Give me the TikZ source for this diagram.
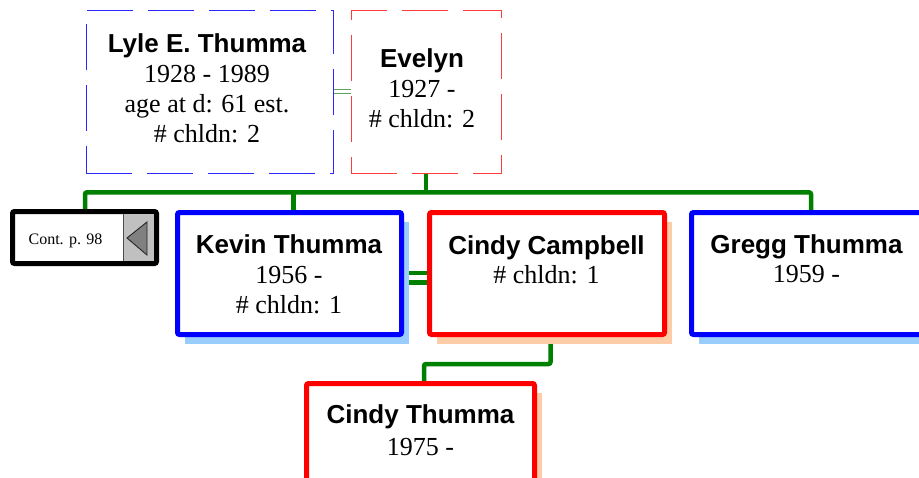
\documentclass[tikz,border=0pt]{standalone}
\usepackage{fontspec}
\setmainfont{Liberation Serif}
\newfontfamily\namefont{Liberation Sans}
\usetikzlibrary{calc}
\definecolor{famgreen}{RGB}{0,128,0}
\definecolor{mgreen}{RGB}{90,165,90}
\definecolor{pblue}{RGB}{0,0,255}
\definecolor{pred}{RGB}{255,0,0}
\definecolor{dblue}{RGB}{40,40,255}
\definecolor{dred}{RGB}{255,60,60}
\definecolor{shblue}{RGB}{153,204,255}
\definecolor{shpeach}{RGB}{255,204,168}
\definecolor{contgrey}{RGB}{192,192,192}
\definecolor{trigrey}{RGB}{128,128,128}
\pgfdeclarelayer{bg}
\pgfsetlayers{bg,main}
\tikzset{
  x=1pt, y=-1pt,
  dbox/.style={draw, fill=white, line width=1pt, dash pattern=on 46pt off 15pt, inner sep=0pt, outer sep=0pt},
  pbox/.style={draw, fill=white, line width=5pt, rounded corners=2pt, inner sep=0pt, outer sep=0pt, minimum height=122pt},
  nametxt/.style={anchor=base, inner sep=0pt, font=\namefont\bfseries\fontsize{26}{30}\selectfont},
  infotxt/.style={anchor=base, inner sep=0pt, font=\fontsize{26}{30}\selectfont},
  fam/.style={draw=famgreen, line width=4.5pt, rounded corners=2pt},
  mthin/.style={draw=mgreen, line width=1.2pt},
}
\begin{document}
\begin{tikzpicture}
\useasboundingbox (0,0) rectangle (919,477);
\clip (0,0) rectangle (919,477);

% parents (dashed)
\node[dbox, draw=dblue, minimum width=247pt, minimum height=163pt] (lyle) at (209.5,91.5) {};
\node[dbox, draw=dred, minimum width=150pt, minimum height=163pt] (ev) at (426,91.5) {};

% continuation box
\node[draw=black, fill=white, line width=5pt, rounded corners=2pt, inner sep=0pt, outer sep=0pt,
      minimum width=144pt, minimum height=52pt] (cont) at (84.5,237.5) {};
\fill[contgrey] (123,214) rectangle (153.5,261);
\draw[black!70, line width=0.8pt] (123,214) -- (123,261);
\filldraw[fill=trigrey, draw=black!85, line width=0.9pt] (127,238) -- (147,222) -- (147,255) -- cycle;
\node[anchor=base, inner sep=0pt, font=\fontsize{16}{18}\selectfont] (contt) at (65.5,244) {Cont. p. 98};

% children
\node[pbox, draw=pblue, minimum width=224pt] (kevin) at (289.5,273.5) {};
\node[pbox, draw=pred, minimum width=235pt] (cindyc) at (547,273.5) {};
\node[pbox, draw=pblue, minimum width=230pt] (gregg) at (806.5,273.5) {};
\node[pbox, draw=pred, minimum width=228pt] (cindyt) at (420.5,444.5) {};

% texts
\node[nametxt] (lyleN) at (207,52) {Lyle E. Thumma};
\node[infotxt] (lyleA) at (207,82) {1928 - 1989};
\node[infotxt] (lyleB) at (207,112) {age at d: 61 est.};
\node[infotxt] (lyleC) at (207,142) {\# chldn: 2};

\node[nametxt] (evN) at (422,67) {Evelyn};
\node[infotxt] (evA) at (422,97) {1927 -};
\node[infotxt] (evB) at (422,127) {\# chldn: 2};

\node[nametxt] (kevN) at (289,253) {Kevin Thumma};
\node[infotxt] (kevA) at (289,283) {1956 -};
\node[infotxt] (kevB) at (289,313) {\# chldn: 1};

\node[nametxt] (ccN) at (546.5,254) {Cindy Campbell};
\node[infotxt] (ccA) at (546.5,283) {\# chldn: 1};

\node[nametxt] (grN) at (806.5,253) {Gregg Thumma};
\node[infotxt] (grA) at (806.5,282) {1959 -};

\node[nametxt] (ctN) at (420.5,423) {Cindy Thumma};
\node[infotxt] (ctA) at (420.5,455) {1975 -};

% connectors and shadows
\coordinate (bar) at (0,192.3);
\coordinate (dA) at (85,192.3);
\coordinate (dK) at (293.5,192.3);
\coordinate (dG) at (811,192.3);
\coordinate (m1) at (0,89.5);
\coordinate (m2) at (0,93.5);
\coordinate (k1) at (0,273);
\coordinate (k2) at (0,282.5);
\coordinate (cc) at (550.5,364);
\coordinate (ct) at (424,364);
\begin{pgfonlayer}{bg}
  \draw[mthin] (lyle.east |- m1) -- (ev.west |- m1);
  \draw[mthin] (lyle.east |- m2) -- (ev.west |- m2);
  \draw[fam] (cont.north -| dA) -- (dA) -- (dG) -- (gregg.north -| dG);
  \draw[fam] (kevin.north -| dK) -- (dK);
  \draw[fam] (ev.south) -- (ev.south |- bar);
  \draw[fam, rounded corners=0pt] (kevin.east |- k1) -- (cindyc.west |- k1);
  \draw[fam, rounded corners=0pt] (kevin.east |- k2) -- (cindyc.west |- k2);
  \draw[fam] (cindyc.south -| cc) -- (cc) -- (ct) -- (cindyt.north -| ct);
  \fill[shblue] ([shift={(7.5,9)}]kevin.north west) rectangle ([shift={(7.5,9)}]kevin.south east);
  \fill[shpeach] ([shift={(7.5,9)}]cindyc.north west) rectangle ([shift={(7.5,9)}]cindyc.south east);
  \fill[shblue] ([shift={(7.5,9)}]gregg.north west) rectangle ([shift={(7.5,9)}]gregg.south east);
  \fill[shpeach] ([shift={(7.5,9)}]cindyt.north west) rectangle ([shift={(7.5,9)}]cindyt.south east);
\end{pgfonlayer}
\end{tikzpicture}
\end{document}
